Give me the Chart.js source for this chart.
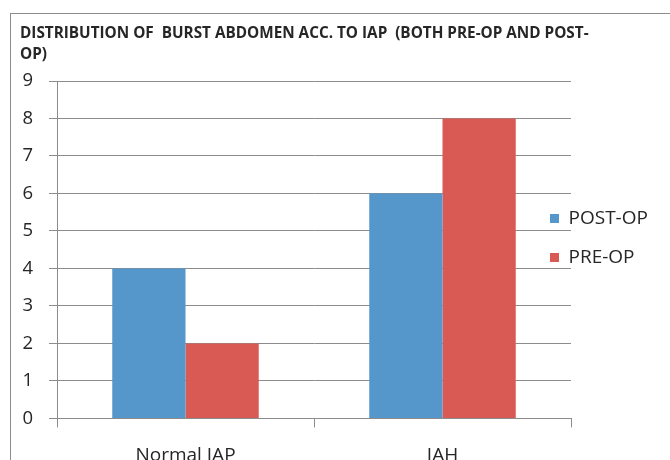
<!DOCTYPE html>
<html>
<head>
<meta charset="utf-8">
<script src="https://cdn.jsdelivr.net/npm/chart.js@4"></script>
<style>
  html, body { margin: 0; padding: 0; background: #fff; overflow: hidden; }
  #frame {
    position: absolute; left: 10px; top: 13px; width: 720px; height: 500px;
    border-left: 1px solid #8c8c8c; border-top: 1px solid #8c8c8c;
  }
  #frame canvas { position: absolute; left: 0; top: 0; }
</style>
</head>
<body>
<div id="frame"><canvas id="chart" width="700" height="480"></canvas></div>
<script>
  const titleLines = [
    "DISTRIBUTION OF  BURST ABDOMEN ACC. TO IAP  (BOTH PRE-OP AND POST-",
    "OP)"
  ];
  const categories = ["Normal IAP", "IAH"];
  const seriesNames = ["POST-OP", "PRE-OP"];
  const postOp = [4, 6];
  const preOp = [2, 8];
  const yMin = 0;
  const yMax = 9;
  const yStep = 1;

  const gridColor = "#8c8c8c";
  const textColor = "#262626";

  // put the legend over the right end of the plot, like the original
  const legendPlace = {
    id: "legendPlace",
    afterLayout(chart) {
      const lg = chart.legend;
      lg.left = 519;
      lg.right = 700;
      lg.top = 175;
      lg.bottom = 320;
    }
  };

  const ctx = document.getElementById("chart").getContext("2d");
  new Chart(ctx, {
    type: "bar",
    data: {
      labels: categories,
      datasets: [
        {
          label: seriesNames[0],
          data: postOp,
          backgroundColor: "#5596cb",
          borderWidth: 0,
          categoryPercentage: 0.57,
          barPercentage: 1.0
        },
        {
          label: seriesNames[1],
          data: preOp,
          backgroundColor: "#d95a55",
          borderWidth: 0,
          categoryPercentage: 0.57,
          barPercentage: 1.0
        }
      ]
    },
    options: {
      responsive: false,
      animation: false,
      layout: { padding: { left: 9, top: 0, right: 40, bottom: 9.8 } },
      plugins: {
        title: {
          display: true,
          text: titleLines,
          align: "start",
          color: textColor,
          font: { family: "'Open Sans'", size: 15.3, weight: "bold", lineHeight: 1.36 },
          padding: { top: 9, bottom: 16.4 }
        },
        legend: {
          position: "right",
          align: "start",
          maxWidth: 100,
          labels: {
            color: textColor,
            font: { family: "'Open Sans'", size: 19 },
            boxWidth: 9,
            boxHeight: 9,
            padding: 20
          }
        },
        tooltip: { enabled: false }
      },
      scales: {
        x: {
          grid: {
            display: true,
            drawOnChartArea: false,
            drawTicks: true,
            tickLength: 9,
            color: gridColor
          },
          border: { display: true, color: gridColor },
          ticks: {
            color: textColor,
            font: { family: "'Open Sans'", size: 19 },
            padding: 17
          }
        },
        y: {
          min: yMin,
          max: yMax,
          afterFit(scale) { scale.width = 37; },
          grid: { color: gridColor, tickLength: 8 },
          border: { display: true, color: gridColor },
          ticks: {
            stepSize: yStep,
            color: textColor,
            font: { family: "'Open Sans'", size: 18.5 },
            padding: 16
          }
        }
      }
    },
    plugins: [legendPlace]
  });
</script>
</body>
</html>
